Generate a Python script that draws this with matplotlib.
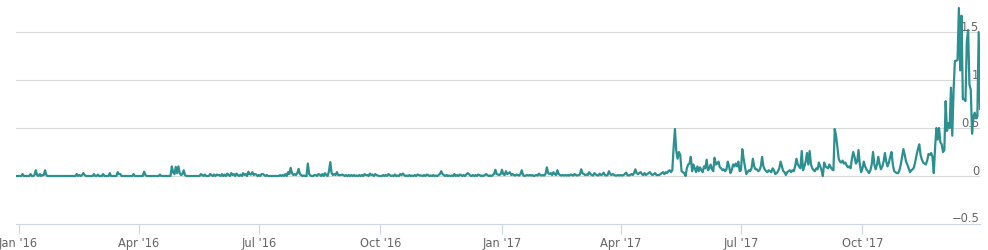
import matplotlib
matplotlib.use('Agg')
import matplotlib.pyplot as plt
import matplotlib.dates as mdates
import matplotlib.transforms as mtransforms
import pandas as pd

# daily values, 30 Dec 2015 .. 29 Dec 2017
dec15 = [0, 0]
jan16 = [0, 0, 0, 0.02, 0, 0, 0, 0, 0, 0.02,
         0, 0, 0.01, 0.06, 0.01, 0, 0.02, 0, 0.01, 0.01,
         0.06, 0.01, 0, 0, 0, 0, 0, 0, 0, 0,
         0]
feb16 = [0, 0, 0, 0, 0, 0, 0, 0, 0, 0,
         0, 0, 0, 0.02, 0, 0.01, 0, 0.01, 0.03, 0.01,
         0, 0, 0, 0, 0, 0, 0.02, 0, 0]
mar16 = [0.015, 0, 0, 0, 0.02, 0, 0, 0, 0, 0.03,
         0, 0, 0, 0, 0, 0.04, 0.02, 0.02, 0, 0,
         0, 0, 0, 0, 0, 0, 0, 0.02, 0, 0,
         0]
apr16 = [0, 0, 0, 0, 0.045, 0.01, 0, 0, 0, 0,
         0, 0, 0, 0, 0, 0, 0.015, 0, 0, 0,
         0, 0, 0, 0, 0, 0.1, 0.04, 0.02, 0.095, 0.03]
may16 = [0.1, 0.03, 0.01, 0.02, 0.06, 0.01, 0, 0, 0, 0,
         0, 0, 0, 0, 0, 0, 0, 0.02, 0.01, 0,
         0.015, 0, 0, 0, 0.02, 0.01, 0, 0.015, 0, 0.015,
         0.01]
jun16 = [0.01, 0, 0.02, 0, 0.015, 0, 0.025, 0.01, 0, 0.03,
         0.01, 0.02, 0, 0.025, 0.01, 0, 0.015, 0, 0.03, 0.01,
         0.02, 0, 0.045, 0.02, 0.015, 0.04, 0.01, 0.02, 0.015, 0]
jul16 = [0.01, 0, 0.02, 0.02, 0.01, 0, 0.01, 0, 0, 0,
         0, 0, 0, 0, 0, 0, 0.01, 0, 0.01, 0,
         0.02, 0, 0.04, 0.02, 0.085, 0.03, 0.01, 0.02, 0.01, 0.03,
         0.075]
aug16 = [0.02, 0.01, 0, 0.005, 0, 0, 0.13, 0.02, 0.005, 0,
         0, 0.01, 0.01, 0, 0.02, 0.015, 0, 0.02, 0, 0.03,
         0.01, 0, 0.05, 0.145, 0.03, 0.01, 0.02, 0.01, 0.04, 0.01,
         0.01]
sep16 = [0.01, 0.015, 0.01, 0, 0.01, 0, 0.01, 0, 0.01, 0,
         0.01, 0, 0.005, 0, 0.01, 0, 0.01, 0, 0.02, 0.01,
         0.01, 0, 0.025, 0.01, 0.015, 0, 0.02, 0.01, 0.005, 0]
oct16 = [0, 0, 0.01, 0, 0.01, 0, 0.02, 0.01, 0, 0.005,
         0, 0.015, 0, 0.005, 0, 0.02, 0.01, 0.025, 0.01, 0,
         0.005, 0, 0.01, 0, 0.005, 0, 0.01, 0, 0.015, 0.01,
         0.005]
nov16 = [0.005, 0, 0.01, 0, 0.015, 0.01, 0, 0.005, 0, 0.01,
         0, 0.005, 0, 0.01, 0.02, 0.05, 0.02, 0.01, 0, 0.01,
         0, 0.005, 0, 0.005, 0, 0.02, 0, 0.01, 0, 0.015]
dec16 = [0.01, 0, 0.01, 0, 0.015, 0.03, 0.02, 0.005, 0, 0.01,
         0, 0.01, 0, 0.015, 0.01, 0, 0.005, 0, 0.01, 0.02,
         0.01, 0, 0.005, 0, 0.01, 0.02, 0.065, 0.02, 0.015, 0.01,
         0.02]
jan17 = [0.065, 0.02, 0.01, 0.05, 0.02, 0.03, 0.04, 0.01, 0.02, 0.01,
         0.005, 0.015, 0.01, 0.005, 0.02, 0.06, 0.01, 0, 0.005, 0.01,
         0.005, 0.01, 0.005, 0.01, 0, 0.005, 0.01, 0.005, 0.025, 0.01,
         0.005]
feb17 = [0.01, 0.005, 0.02, 0.09, 0.03, 0.02, 0.03, 0.01, 0.04, 0.02,
         0.01, 0.06, 0.02, 0.01, 0.005, 0.01, 0.005, 0.01, 0.005, 0.01,
         0.005, 0.015, 0.01, 0.005, 0.02, 0.01, 0.005, 0.01]
mar17 = [0.015, 0.07, 0.03, 0.02, 0.01, 0.015, 0.01, 0.04, 0.02, 0.01,
         0.005, 0.03, 0.015, 0.01, 0.005, 0.025, 0.01, 0.015, 0.035, 0.01,
         0.005, 0.01, 0.05, 0.02, 0.01, 0.02, 0.01, 0.005, 0.005, 0.01,
         0.005]
apr17 = [0.01, 0.005, 0.01, 0.02, 0.035, 0.01, 0.005, 0.01, 0.02, 0.01,
         0.03, 0.07, 0.03, 0.02, 0.03, 0.04, 0.02, 0.01, 0.03, 0.01,
         0.02, 0.03, 0.04, 0.02, 0.01, 0.02, 0.03, 0.01, 0.01, 0.01]
may17 = [0.02, 0.03, 0.04, 0.02, 0.04, 0.03, 0.05, 0.06, 0.04, 0.06,
         0.3, 0.49, 0.26, 0.18, 0.25, 0.22, 0.05, 0.04, 0.03, 0.0,
         0.08, 0.12, 0.13, 0.2, 0.05, 0.12, 0.08, 0.04, 0.1, 0.05,
         0.09]
jun17 = [0.06, 0.04, 0.1, 0.08, 0.17, 0.06, 0.08, 0.12, 0.07, 0.05,
         0.19, 0.12, 0.13, 0.15, 0.09, 0.08, 0.06, 0.07, 0.05, 0.07,
         0.15, 0.1, 0.03, 0.06, 0.12, 0.1, 0.13, 0.1, 0.15, 0.05]
jul17 = [0.06, 0.28, 0.18, 0.1, 0.02, 0.04, 0.06, 0.05, 0.08, 0.18,
         0.1, 0.07, 0.07, 0.05, 0.06, 0.1, 0.2, 0.1, 0.07, 0.05,
         0.04, 0.06, 0.05, 0.04, 0.08, 0.06, 0.02, 0.03, 0.05, 0.08,
         0.15]
aug17 = [0.1, 0.05, 0.04, 0.01, 0.04, 0.05, 0.06, 0.04, 0.06, 0.05,
         0.1, 0.18, 0.12, 0.1, 0.08, 0.26, 0.06, 0.1, 0.15, 0.24,
         0.12, 0.26, 0.12, 0.08, 0.06, 0.05, 0.08, 0.07, 0.14, 0.1,
         0.06]
sep17 = [0.0, 0.14, 0.1, 0.09, 0.08, 0.12, 0.09, 0.07, 0.06, 0.49,
         0.42, 0.3, 0.18, 0.15, 0.14, 0.16, 0.13, 0.14, 0.11, 0.09,
         0.1, 0.08, 0.18, 0.25, 0.2, 0.13, 0.15, 0.27, 0.12, 0.04]
oct17 = [0.08, 0.15, 0.1, 0.07, 0.05, 0.03, 0.06, 0.12, 0.25, 0.12,
         0.07, 0.12, 0.2, 0.12, 0.07, 0.1, 0.15, 0.24, 0.15, 0.1,
         0.14, 0.2, 0.25, 0.12, 0.05, 0.04, 0.03, 0.03, 0.06, 0.12,
         0.2]
nov17 = [0.28, 0.22, 0.15, 0.12, 0.08, 0.04, 0.06, 0.07, 0.09, 0.15,
         0.22, 0.28, 0.33, 0.22, 0.17, 0.14, 0.13, 0.12, 0.16, 0.23,
         0.22, 0.24, 0.2, 0.03, 0.3, 0.5, 0.38, 0.5, 0.35, 0.33]
dec17 = [0.25, 0.27, 0.78, 0.47, 0.55, 0.5, 0.92, 0.42, 0.9, 1.2,
         1.2, 1.21, 1.75, 1.1, 1.67, 0.8, 0.8, 0.78, 1.4, 1.52,
         0.95, 0.9, 0.44, 0.62, 0.66, 0.6, 0.62, 1.5, 0.7]

yticks = [-0.5, 0, 0.5, 1, 1.5]
ytick_labels = ['\u22120.5', '0', '0.5', '1', '1.5']
xtick_dates = ['2016-01-01', '2016-04-01', '2016-07-01', '2016-10-01',
               '2017-01-01', '2017-04-01', '2017-07-01', '2017-10-01']
xtick_labels = ["Jan '16", "Apr '16", "Jul '16", "Oct '16",
                "Jan '17", "Apr '17", "Jul '17", "Oct '17"]

values = (dec15 + jan16 + feb16 + mar16 + apr16 + may16 + jun16 + jul16 + aug16
          + sep16 + oct16 + nov16 + dec16 + jan17 + feb17 + mar17 + apr17 + may17
          + jun17 + jul17 + aug17 + sep17 + oct17 + nov17 + dec17)
dates = pd.date_range('2015-12-30', periods=len(values), freq='D')

plt.rcParams['font.family'] = ['DejaVu Sans']

fig = plt.figure(figsize=(9.88, 2.51), dpi=100)
ax = fig.add_axes([16 / 988, 26 / 251, 964 / 988, 225 / 251])

ax.plot(dates, values, color='#2b908f', lw=1.6, solid_joinstyle='round', zorder=3)

ax.set_xlim(dates[0], dates[-1])
ax.set_ylim(-0.5, 1.844)

# horizontal grid
for v in yticks[1:]:
    ax.axhline(v, color='#d8d8d8', lw=0.8, zorder=1)

# y labels sit just above each grid line, right aligned inside the plot
lab_tr = mtransforms.offset_copy(ax.get_yaxis_transform(), fig=fig, x=-0.5, y=1.8, units='points')
for v, s in zip(yticks, ytick_labels):
    ax.text(1.0, v, s, transform=lab_tr, ha='right', va='baseline',
            fontsize=8.3, color='#666666', zorder=2)
ax.set_yticks([])

ax.set_xticks(pd.to_datetime(xtick_dates))
ax.set_xticklabels(xtick_labels)
ax.tick_params(axis='x', length=7.2, width=0.8, color='#ccd6eb', pad=1.5,
               labelsize=8.3, labelcolor='#666666')

for side in ['top', 'left', 'right']:
    ax.spines[side].set_visible(False)
ax.spines['bottom'].set_color('#ccd6eb')
ax.spines['bottom'].set_linewidth(0.8)
ax.spines['bottom'].set_position(('data', -0.5))

fig.savefig('out.png', dpi=100)
